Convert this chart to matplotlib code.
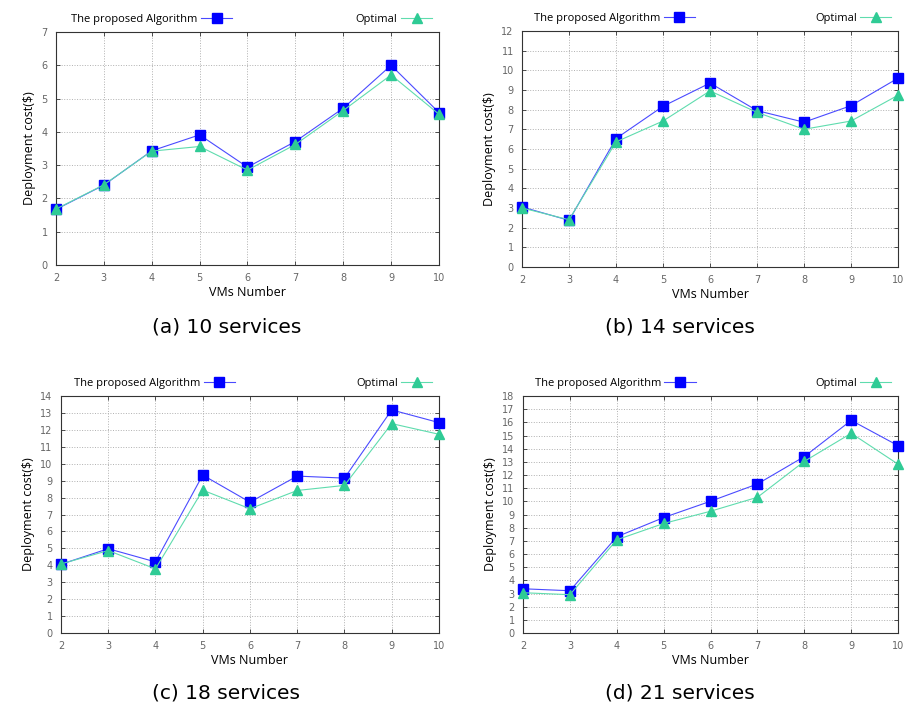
import numpy as np
import matplotlib
matplotlib.use("Agg")
import matplotlib.pyplot as plt

# Datos
vms = [2, 3, 4, 5, 6, 7, 8, 9, 10]

alg_10 = [1.67, 2.40, 3.43, 3.91, 2.94, 3.71, 4.71, 6.00, 4.58]
opt_10 = [1.68, 2.41, 3.42, 3.56, 2.85, 3.62, 4.64, 5.71, 4.53]

alg_14 = [3.05, 2.37, 6.53, 8.17, 9.35, 7.95, 7.36, 8.20, 9.60]
opt_14 = [3.00, 2.40, 6.36, 7.42, 8.95, 7.86, 7.00, 7.42, 8.73]

alg_18 = [4.06, 4.98, 4.20, 9.33, 7.73, 9.27, 9.15, 13.18, 12.43]
opt_18 = [4.08, 4.87, 3.79, 8.44, 7.34, 8.42, 8.72, 12.37, 11.74]

alg_21 = [3.36, 3.21, 7.31, 8.77, 10.01, 11.32, 13.40, 16.15, 14.23]
opt_21 = [3.06, 2.91, 7.08, 8.32, 9.25, 10.31, 13.04, 15.17, 12.82]

ymax = [7, 12, 14, 18]
captions = ["(a) 10 services", "(b) 14 services", "(c) 18 services", "(d) 21 services"]

# Posiciones de los ejes (fraccion de la figura)
rects = [
    [0.0618, 0.6273, 0.4227, 0.3277],
    [0.5762, 0.6245, 0.4150, 0.3320],
    [0.0673, 0.1097, 0.4172, 0.3333],
    [0.5773, 0.1097, 0.4140, 0.3333],
]
caption_pos = [(0.250, 0.540), (0.750, 0.540), (0.250, 0.026), (0.750, 0.026)]

series = [(alg_10, opt_10), (alg_14, opt_14), (alg_18, opt_18), (alg_21, opt_21)]

fig = plt.figure(figsize=(9.06, 7.11), dpi=100)

for i in range(4):
    ax = fig.add_axes(rects[i])
    alg, opt = series[i]
    l1, = ax.plot(vms, alg, color="#4a4aff", linewidth=0.8, marker="s", markersize=6.5,
                  markerfacecolor="#0000ff", markeredgecolor="#0000ff",
                  label="The proposed Algorithm", clip_on=False, zorder=3)
    l2, = ax.plot(vms, opt, color="#5fdcae", linewidth=0.8, marker="^", markersize=6.5,
                  markerfacecolor="#2fcb95", markeredgecolor="#2fcb95",
                  label="Optimal", clip_on=False, zorder=4)

    ax.set_xlim(2, 10)
    ax.set_ylim(0, ymax[i])
    ax.set_xticks(vms)
    ax.set_yticks(np.arange(0, ymax[i] + 1, 1))
    ax.tick_params(direction="in", length=3, width=0.6, labelsize=7, colors="#333333",
                   labelcolor="#666666", top=True, right=True, pad=6)
    ax.grid(True, linestyle=":", color="#b0b0b0", linewidth=0.7)
    for s in ax.spines.values():
        s.set_color("#333333")
        s.set_linewidth(0.8)

    ax.set_xlabel("VMs Number", fontsize=9, family="Open Sans", labelpad=2)
    ax.set_ylabel("Deployment cost($)", fontsize=9, family="Open Sans", labelpad=4)

    # Leyendas separadas encima del eje
    leg1 = ax.legend(handles=[l1], loc="lower right", bbox_to_anchor=(0.46, 1.03),
                     frameon=False, markerfirst=False, handlelength=2.8,
                     handletextpad=0.3, borderpad=0, borderaxespad=0,
                     prop={"family": "Open Sans", "size": 8})
    ax.add_artist(leg1)
    ax.legend(handles=[l2], loc="lower right", bbox_to_anchor=(0.982, 1.03),
              frameon=False, markerfirst=False, handlelength=2.8,
              handletextpad=0.3, borderpad=0, borderaxespad=0,
              prop={"family": "Open Sans", "size": 8})

    fig.text(caption_pos[i][0], caption_pos[i][1], captions[i], ha="center", va="center",
             fontsize=14.5, family="DejaVu Sans")

plt.savefig("out.png", dpi=100)
